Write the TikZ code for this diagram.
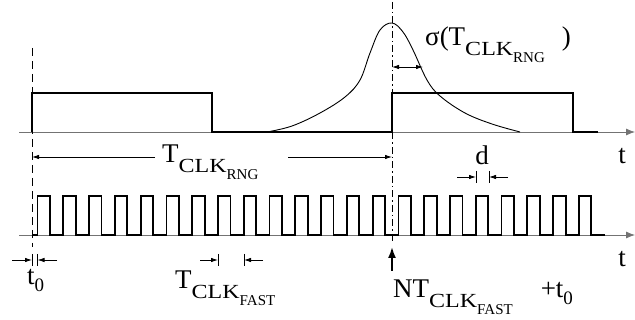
\documentclass[tikz,border=0pt]{standalone}
\usepackage{fontspec}
\setmainfont{Liberation Serif}
\usepackage{graphicx}
\usetikzlibrary{arrows.meta, positioning, calc}

\newcommand{\clksub}[1]{\raisebox{-10pt}{\fontsize{20}{21}\selectfont\scalebox{1.2}[1]{CLK}\raisebox{-7pt}{\fontsize{15}{16}\selectfont #1}}}
\newcommand{\zerosub}{\raisebox{-7pt}{\fontsize{19}{19}\selectfont 0}}

\begin{document}
\begin{tikzpicture}[
    x=1pt, y=-1pt,
    font=\fontsize{27}{32}\selectfont,
    axis/.style={draw=black!55, line width=0.8pt, -{Latex[length=9pt,width=7pt]}},
    signal/.style={draw, line width=1.8pt, line join=miter},
    guide/.style={draw, line width=0.7pt, dash pattern=on 8pt off 5pt},
    centerline/.style={draw, line width=0.7pt, dash pattern=on 7pt off 3pt on 1.5pt off 3pt},
    dim/.style={draw, line width=0.8pt, -{Latex[length=7pt,width=4.5pt]}},
    twodim/.style={draw, line width=0.8pt, {Latex[length=7pt,width=4.5pt]}-{Latex[length=7pt,width=4.5pt]}},
    tick/.style={draw, line width=0.8pt},
    lbl/.style={inner sep=0pt, anchor=base west}
]
\useasboundingbox (0,0) rectangle (635,320);

% Time axes
\coordinate (topstart) at (19,132);
\coordinate (topend) at (635,132);
\coordinate (botstart) at (19,235);
\coordinate (botend) at (635,235);
\draw[axis] (topstart) -- (topend);
\draw[axis] (botstart) -- (botend);

% Slow RNG clock
\draw[signal] (32,132) -- (32,93) -- (212,93) -- (212,132) -- (392,132)
    -- (392,93) -- (573,93) -- (573,132) -- (598,132);

% Fast clock
\draw[signal] (32,235) \foreach \k in {0,...,21}{
    -- ({37.5+25.78*\k},235) -- ++(0,-39) -- ++(12.5,0) -- ++(0,39)} -- (605,235);

% Jitter distribution
\draw[line width=0.9pt] plot[smooth, tension=0.6] coordinates {
    (267,132) (292,126) (320,113) (345,97) (360,80) (370,53) (380,30) (392,23)
    (403,32) (413,50) (427,80) (440,96) (465,113) (492,124) (520,132)};

% Reference lines
\draw[guide] (32,48) -- (32,247);
\draw[centerline] (392,2) -- (392,243);

% Labels
\node[lbl] (sigma) at (425,46) {σ(T\clksub{RNG}\hspace{17pt})};
\node[lbl] (rng) at (162,163) {T\clksub{RNG}};
\node[inner sep=0pt, anchor=base] (dlbl) at (482,165) {d};
\node[inner sep=0pt, anchor=base] (ttop) at (622,164) {t};
\node[inner sep=0pt, anchor=base] (tbot) at (622,267) {t};
\node[lbl] (tzero) at (27,285) {t\zerosub};
\node[lbl] (fast) at (175,289) {T\clksub{FAST}};
\node[lbl] (ntfast) at (393,298) {NT\clksub{FAST}\hspace{28pt}+t\zerosub};

% Sigma width
\coordinate (sigA) at (392,67);
\coordinate (sigB) at (423,67);
\draw[twodim] (sigA) -- (sigB);

% RNG period
\coordinate (rngstart) at (32,157);
\coordinate (rngA) at (155,157);
\coordinate (rngB) at (288,157);
\coordinate (rngend) at (392,157);
\draw[dim] (rngA) -- (rngstart);
\draw[dim] (rngB) -- (rngend);

% Pulse width d
\coordinate (dA) at (457,177);
\coordinate (dB) at (476,177);
\coordinate (dC) at (489,177);
\coordinate (dD) at (508,177);
\draw[dim] (dA) -- (dB);
\draw[dim] (dD) -- (dC);
\draw[tick] ([yshift=6pt]dB) -- ([yshift=-6pt]dB);
\draw[tick] ([yshift=6pt]dC) -- ([yshift=-6pt]dC);

% Offset t0
\coordinate (zA) at (12,260);
\coordinate (zB) at (32,260);
\coordinate (zC) at (37.5,260);
\coordinate (zD) at (57,260);
\draw[dim] (zA) -- (zB);
\draw[dim] (zD) -- (zC);
\draw[tick] ([yshift=6pt]zB) -- ([yshift=-6pt]zB);
\draw[tick] ([yshift=6pt]zC) -- ([yshift=-6pt]zC);

% Fast period
\coordinate (fA) at (200,260);
\coordinate (fB) at (218,260);
\coordinate (fC) at (244,260);
\coordinate (fD) at (263,260);
\draw[dim] (fA) -- (fB);
\draw[dim] (fD) -- (fC);
\draw[tick] ([yshift=6pt]fB) -- ([yshift=-6pt]fB);
\draw[tick] ([yshift=6pt]fC) -- ([yshift=-6pt]fC);

% Sampling instant
\coordinate (sampletail) at (392,271);
\coordinate (sample) at (392,247);
\draw[line width=1.8pt, -{Latex[length=11pt,width=8pt]}] (sampletail) -- (sample);

\end{tikzpicture}
\end{document}
